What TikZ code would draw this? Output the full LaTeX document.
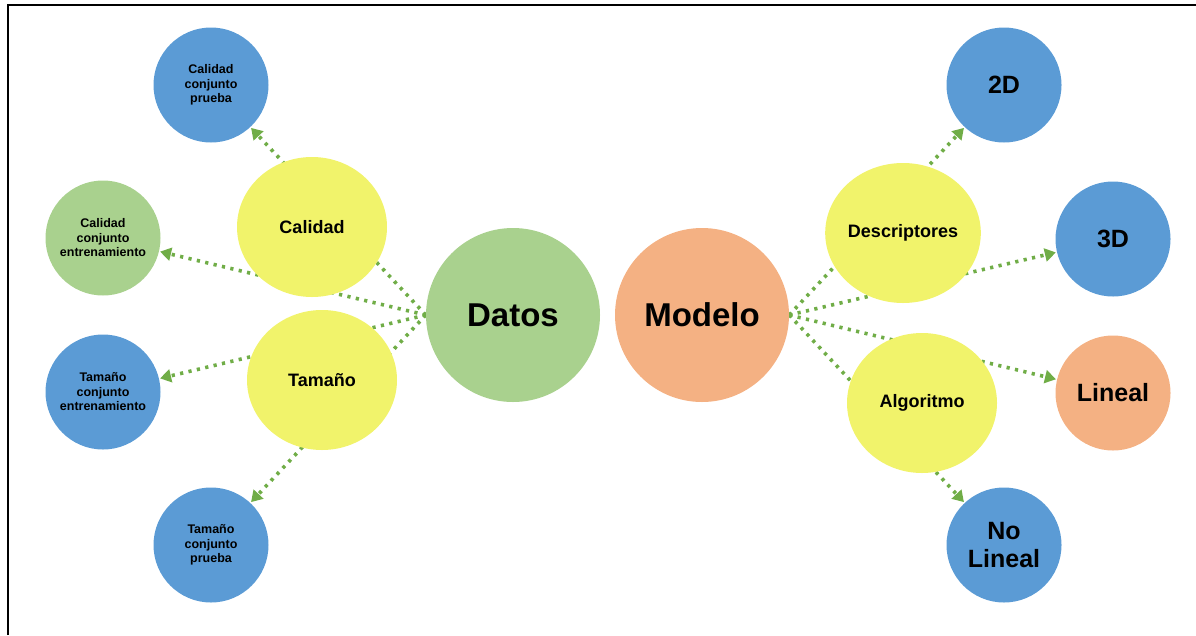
\documentclass[tikz,border=0pt]{standalone}
\usepackage{fontspec}
\setmainfont{Liberation Sans}
\usetikzlibrary{shapes.geometric,arrows.meta,backgrounds}
\definecolor{cblue}{HTML}{5B9BD5}
\definecolor{cgreen}{HTML}{A9D18E}
\definecolor{corange}{HTML}{F4B183}
\definecolor{cyellow}{HTML}{F1F36B}
\definecolor{clink}{HTML}{70AD47}
\tikzset{
  bubble/.style={circle, draw=none, inner sep=0pt, minimum size=115pt, align=center, font=\bfseries},
  smalltxt/.style={font=\bfseries\fontsize{12.5}{14.5}\selectfont},
  bigtxt/.style={font=\bfseries\fontsize{25}{28}\selectfont},
  hub/.style={circle, draw=none, inner sep=0pt, minimum size=174pt, font=\bfseries\fontsize{33}{36}\selectfont},
  branch/.style={ellipse, draw=none, fill=cyellow, inner sep=0pt, minimum width=150pt, minimum height=140pt, font=\bfseries\fontsize{18}{20}\selectfont},
  link/.style={draw=clink, line width=3.6pt, dash pattern=on 3.2pt off 5.4pt,
    -{Triangle[length=11pt,width=13pt,fill=clink]}, shorten >=1pt}
}
\begin{document}
\begin{tikzpicture}[x=1pt,y=-1pt]
\useasboundingbox (0,0) rectangle (1196,635);
% frame
\draw[line width=2pt] (8,635) -- (8,5) -- (1196,5);

% central hubs
\node[hub, fill=cgreen] (datos) at (513,315) {Datos};
\node[hub, fill=corange] (modelo) at (702,315) {Modelo};

% left leaves
\node[bubble, fill=cblue, smalltxt] (cprueba) at (211,85) {Calidad\\conjunto\\prueba};
\node[bubble, fill=cgreen, smalltxt] (centren) at (103,238) {Calidad\\conjunto\\entrenamiento};
\node[bubble, fill=cblue, smalltxt] (tentren) at (103,392) {Tamaño\\conjunto\\entrenamiento};
\node[bubble, fill=cblue, smalltxt] (tprueba) at (211,545) {Tamaño\\conjunto\\prueba};

% right leaves
\node[bubble, fill=cblue, bigtxt] (dosd) at (1004,85) {2D};
\node[bubble, fill=cblue, bigtxt] (tresd) at (1113,239) {3D};
\node[bubble, fill=corange, bigtxt] (lineal) at (1113,393) {Lineal};
\node[bubble, fill=cblue, bigtxt] (nolineal) at (1004,545) {No\\Lineal};

% connectors, kept behind the branch bubbles
\begin{scope}[on background layer]
\draw[link] (datos.west) -- (cprueba);
\draw[link] (datos.west) -- (centren);
\draw[link] (datos.west) -- (tentren);
\draw[link] (datos.west) -- (tprueba);
\draw[link] (modelo.east) -- (dosd);
\draw[link] (modelo.east) -- (tresd);
\draw[link] (modelo.east) -- (lineal);
\draw[link] (modelo.east) -- (nolineal);
\end{scope}

% branch bubbles over the connectors
\node[branch] (calidad) at (312,227) {Calidad};
\node[branch] (tamano) at (322,380) {Tamaño};
\node[branch] (descriptores) at (903,233) {Descriptores};
\node[branch] (algoritmo) at (922,403) {Algoritmo};
\end{tikzpicture}
\end{document}
